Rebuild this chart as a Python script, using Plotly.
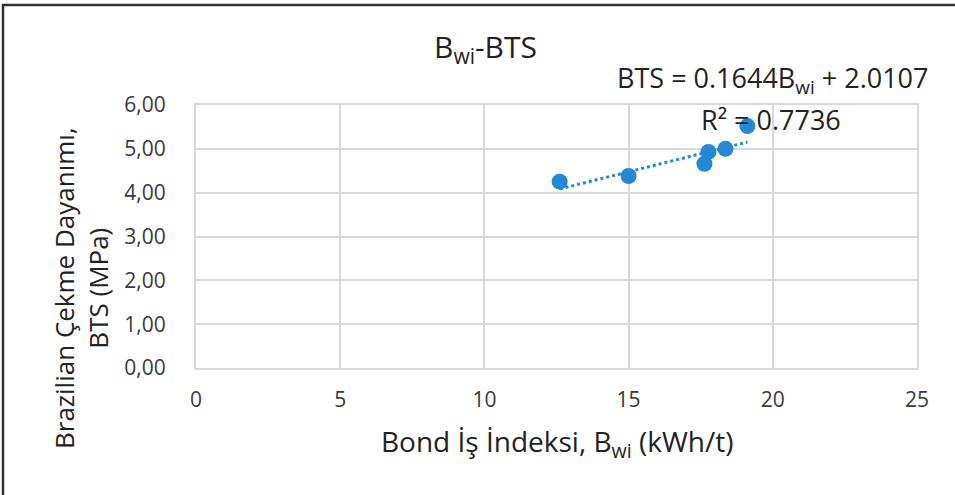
import plotly.graph_objects as go

# Bond work index (kWh/t) vs Brazilian tensile strength (MPa)
bwi = [12.61, 15.00, 17.63, 17.77, 18.36, 19.12]
bts = [4.25, 4.38, 4.66, 4.93, 5.00, 5.52]

# Linear trend coefficients and fit quality
slope = 0.1644
intercept = 2.0107
r_squared = 0.7736

x_ticks = [0, 5, 10, 15, 20, 25]
y_ticks = [0, 1, 2, 3, 4, 5, 6]

W, H = 955, 495
L, R, T, B = 196, 38, 105, 127
pw, ph = W - L - R, H - T - B


def px(xp):
    return (xp - L) / pw


def py(yp):
    return (H - B - yp) / ph


BLUE = "#2388d6"
FONT = "Open Sans"
TXT = "#222222"

x_lo, x_hi = min(bwi), max(bwi)
trend_x = [x_lo, x_hi]
trend_y = [slope * v + intercept for v in trend_x]

fig = go.Figure()
fig.add_trace(go.Scatter(
    x=trend_x, y=trend_y, mode="lines",
    line=dict(color=BLUE, width=3, dash="dot"),
    hoverinfo="skip", showlegend=False,
))
fig.add_trace(go.Scatter(
    x=bwi, y=bts, mode="markers",
    marker=dict(color=BLUE, size=16, line=dict(width=0)),
    showlegend=False,
))

grid = "#d9d9d9"
fig.update_xaxes(
    range=[0, 25], tickvals=x_ticks, showgrid=True, gridcolor=grid, gridwidth=2,
    zeroline=False, showline=True, linecolor=grid, linewidth=2, mirror=True,
    tickfont=dict(family=FONT, size=21, color="#3a3a3a"),
    ticks="", ticklabelstandoff=12,
)
fig.update_yaxes(
    range=[0, 6], tickvals=y_ticks, tickformat=".2f", showgrid=True,
    gridcolor=grid, gridwidth=2, zeroline=False, showline=True,
    linecolor=grid, linewidth=2, mirror=True,
    tickfont=dict(family=FONT, size=21, color="#3a3a3a"),
    ticks="", ticklabelstandoff=24,
)

annotations = [
    dict(text="B<sub>wi</sub>-BTS", x=px(485), y=py(48), font=dict(size=30)),
    dict(text=f"BTS = {slope}B<sub>wi</sub> + {intercept}", x=px(772), y=py(79),
         font=dict(size=27)),
    dict(text=f"R² = {r_squared}", x=px(771), y=py(119), font=dict(size=27)),
    dict(text="Bond İş İndeksi, B<sub>wi</sub> (kWh/t)", x=px(557), y=py(443),
         font=dict(size=28)),
    dict(text="Brazilian Çekme Dayanımı,<br>BTS (MPa)", x=px(81), y=py(288),
         textangle=-90, font=dict(size=26)),
]
for a in annotations:
    a.update(xref="paper", yref="paper", showarrow=False,
             xanchor="center", yanchor="middle", align="center")
    a["font"].update(family=FONT, color=TXT)

fig.update_layout(
    width=W, height=H, margin=dict(l=L, r=R, t=T, b=B),
    paper_bgcolor="white", plot_bgcolor="white", separators=",.",
    annotations=annotations,
    shapes=[
        dict(type="line", xref="paper", yref="paper", x0=px(2), x1=px(W),
             y0=py(5), y1=py(5), line=dict(color="#333333", width=2.5)),
        dict(type="line", xref="paper", yref="paper", x0=px(3), x1=px(3),
             y0=py(4), y1=py(H), line=dict(color="#333333", width=2.5)),
    ],
)

fig.write_html("out.html")
